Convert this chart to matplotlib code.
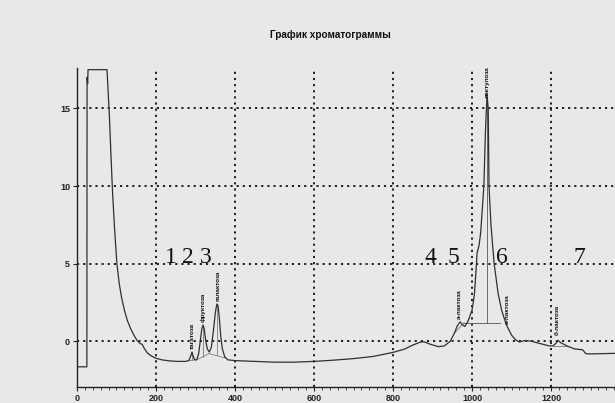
import matplotlib
matplotlib.use("Agg")
import matplotlib.pyplot as plt
from matplotlib.ticker import MultipleLocator

# ---- data ----
time = [0, 25, 25.5, 27, 28, 76, 79, 82, 86, 90, 95, 101, 107, 113, 120, 128, 136, 145, 152,
        160, 165, 170, 178, 188, 200, 215, 235, 255, 275, 283, 288, 291, 294, 298, 303, 308,
        312, 316, 319, 322, 326, 330, 335, 340, 345, 350, 354, 357, 360, 364, 368, 374, 382,
        400, 450, 500, 550, 600, 650, 700, 750, 800, 830, 850, 870, 880, 895, 915, 930, 945,
        955, 963, 970, 976, 982, 990, 1000, 1006, 1010, 1013, 1018, 1022, 1026, 1030, 1034,
        1038, 1041, 1043, 1048, 1056, 1066, 1075, 1085, 1090, 1100, 1110, 1120, 1135, 1150,
        1165, 1180, 1195, 1205, 1212, 1218, 1225, 1240, 1260, 1280, 1288, 1300, 1330, 1365]
signal = [-1.65, -1.65, 17.0, 16.6, 17.5, 17.5, 16.0, 14.5, 12.0, 9.6, 7.3, 5.0, 3.7, 2.8, 2.0,
          1.3, 0.8, 0.35, 0.05, -0.15, -0.2, -0.45, -0.75, -0.95, -1.1, -1.2, -1.27, -1.3,
          -1.3, -1.25, -0.95, -0.7, -0.95, -1.2, -1.2, -0.8, 0.0, 0.8, 1.05, 0.8, 0.0, -0.5,
          -0.7, -0.4, 0.6, 1.8, 2.4, 2.3, 1.6, 0.3, -0.5, -1.0, -1.2, -1.25, -1.3, -1.35,
          -1.35, -1.3, -1.22, -1.12, -0.98, -0.72, -0.5, -0.25, -0.05, -0.05, -0.2, -0.35,
          -0.3, 0.0, 0.5, 1.0, 1.25, 1.05, 0.95, 1.3, 2.0, 3.0, 4.5, 5.7, 6.2, 7.0, 8.5,
          10.0, 13.5, 15.9, 15.0, 10.0, 7.5, 5.0, 3.1, 2.0, 1.2, 0.9, 0.4, 0.1, -0.05, 0.05,
          0.0, -0.1, -0.2, -0.3, -0.3, -0.15, 0.05, -0.1, -0.3, -0.5, -0.55, -0.8, -0.82,
          -0.8, -0.78]

peak_names = ["тагатоза", "фруктоза", "галактоза", "а-лактоза", "лактулоза", "а-лактоза", "б-лактоза"]
peak_times = [291, 319, 357, 968, 1038, 1090, 1216]
peak_heights = [-0.6, 1.15, 2.5, 1.3, 15.6, 1.0, 0.3]

number_labels = ["1", "2", "3", "4", "5", "6", "7"]
number_x = [238, 281, 327, 894, 952, 1076, 1271]

x_ticks = [0, 200, 400, 600, 800, 1000, 1200]
y_ticks = [0, 5, 10, 15]

# ---- figure ----
bg = "#e8e8e8"
fig = plt.figure(figsize=(6.15, 4.03), dpi=100, facecolor=bg)
ax = fig.add_axes([0.1252, 0.0397, 0.8748, 0.7913], facecolor=bg)

ax.set_xlim(0, 1362)
ax.set_ylim(-2.95, 17.6)

for s in ["top", "right"]:
    ax.spines[s].set_visible(False)
for s in ["left", "bottom"]:
    ax.spines[s].set_color("#222222")
    ax.spines[s].set_linewidth(1.0)

ax.set_xticks(x_ticks)
ax.set_yticks(y_ticks)
ax.xaxis.set_minor_locator(MultipleLocator(20))
ax.tick_params(axis="both", which="major", direction="out", length=3, width=0.8,
               labelsize=6.5, colors="#222222", pad=2)
ax.tick_params(axis="x", which="minor", direction="out", length=2, width=0.6, colors="#333333")
for lab in ax.get_xticklabels() + ax.get_yticklabels():
    lab.set_fontfamily("Liberation Sans")
    lab.set_fontweight("bold")

ax.grid(True, which="major", color="#111111", linestyle=(0, (1.2, 2.2)), linewidth=1.3)

ax.plot(time, signal, color="#303030", linewidth=0.9, zorder=3)

# integration baseline marks
ax.plot([978, 1072], [1.2, 1.2], color="#555555", linewidth=0.6, zorder=2)
ax.plot([1038, 1038], [1.2, 15.6], color="#555555", linewidth=0.6, zorder=2)
ax.plot([283, 298], [-1.25, -1.2], color="#666666", linewidth=0.5, zorder=2)
ax.plot([291, 291], [-1.23, -0.7], color="#666666", linewidth=0.5, zorder=2)
ax.plot([303, 335], [-1.2, -0.8], color="#666666", linewidth=0.5, zorder=2)
ax.plot([319, 319], [-1.0, 1.05], color="#666666", linewidth=0.5, zorder=2)
ax.plot([335, 378], [-0.8, -1.1], color="#666666", linewidth=0.5, zorder=2)
ax.plot([354, 354], [-0.9, 2.4], color="#666666", linewidth=0.5, zorder=2)
ax.plot([955, 980], [0.5, 1.2], color="#666666", linewidth=0.5, zorder=2)
ax.plot([1205, 1240], [-0.3, -0.3], color="#666666", linewidth=0.5, zorder=2)

for name, px, py in zip(peak_names, peak_times, peak_heights):
    ax.text(px, py + 0.1, name, rotation=90, ha="center", va="bottom", fontsize=4.6,
            fontfamily="Liberation Sans", fontweight="bold", color="#111111", zorder=4)

for lab, px in zip(number_labels, number_x):
    ax.text(px, 4.7, lab, ha="center", va="bottom", fontsize=17,
            fontfamily="Liberation Serif", color="#111111", zorder=4)

fig.text(0.537, 0.913, "График хроматограммы", ha="center", va="center", fontsize=7.2,
         fontfamily="Liberation Sans", fontweight="bold", color="#111111")

fig.savefig("out.png", dpi=100, facecolor=bg)
